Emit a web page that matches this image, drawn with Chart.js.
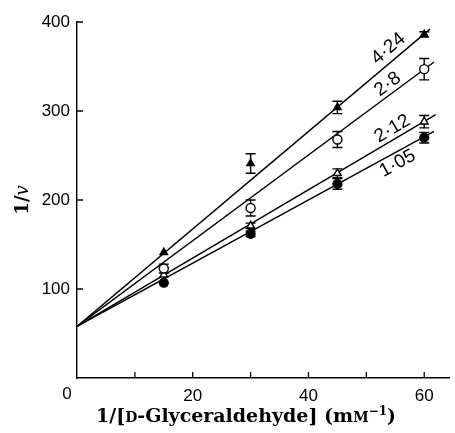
<!DOCTYPE html>
<html lang="en">
<head>
    <meta charset="UTF-8">
    <title>1/v vs 1/[D-Glyceraldehyde]</title>
    <script src="https://cdn.jsdelivr.net/npm/chart.js"></script>
    <style>
        body { margin: 0; background: #ffffff; }
        .chart-box { width: 455px; height: 433px; }
    </style>
</head>
<body>

<div class="chart-box">
    <canvas id="kinChart" width="455" height="433"></canvas>
</div>

<script>
    // Data
    const xValues = [15, 30, 45, 60];

    const s424 = [141, 241, 304, 386];
    const e424 = [0, 11, 7, 3];
    const s28 = [123, 191, 268, 347];
    const e28 = [5, 9, 9, 12];
    const s212 = [116, 171, 230, 288];
    const e212 = [0, 3, 5, 7];
    const s105 = [107, 162, 218, 270];
    const e105 = [0, 3, 6, 6];

    // fitted lines: common intercept, end points
    const intercept = 58;
    const lineEndX = [61, 61.7, 62, 61.7];
    const lineEndY = [392, 355, 296, 277];
    const lineLabels = ['4·24', '2·8', '2·12', '1·05'];
    const labelX = [53.8, 53.7, 54.5, 55.4];
    const labelY = [370, 330, 280, 241];

    const yTicks = [100, 200, 300, 400];
    const xTickMarks = [10, 20, 30, 40, 50, 60];

    const pts = (ys) => xValues.map((x, i) => ({ x: x, y: ys[i] }));
    const fitLine = (i) => [{ x: 0, y: intercept }, { x: lineEndX[i], y: lineEndY[i] }];

    const errSets = [
        { values: s424, errs: e424 },
        { values: s28, errs: e28 },
        { values: s212, errs: e212 },
        { values: s105, errs: e105 }
    ];

    function lineDs(i) {
        return {
            data: fitLine(i), showLine: true, pointRadius: 0,
            borderColor: '#000', borderWidth: 1.4, order: 1
        };
    }

    // Error bars, inside ticks, line labels and axis titles
    const extras = {
        id: 'extras',
        beforeDatasetsDraw(chart) {
            const ctx = chart.ctx;
            const xs = chart.scales.x, ys = chart.scales.y;
            ctx.save();
            ctx.strokeStyle = '#000';
            ctx.lineWidth = 1.4;
            errSets.forEach(set => {
                xValues.forEach((xv, i) => {
                    const e = set.errs[i];
                    if (!e) return;
                    const px = xs.getPixelForValue(xv);
                    const top = ys.getPixelForValue(set.values[i] + e);
                    const bot = ys.getPixelForValue(set.values[i] - e);
                    ctx.beginPath();
                    ctx.moveTo(px, top); ctx.lineTo(px, bot);
                    ctx.moveTo(px - 5, top); ctx.lineTo(px + 5, top);
                    ctx.moveTo(px - 5, bot); ctx.lineTo(px + 5, bot);
                    ctx.stroke();
                });
            });
            ctx.restore();
        },
        afterDraw(chart) {
            const ctx = chart.ctx;
            const xs = chart.scales.x, ys = chart.scales.y;
            const area = chart.chartArea;
            ctx.save();
            ctx.strokeStyle = '#000';
            ctx.lineWidth = 1.3;
            ctx.beginPath();
            yTicks.forEach(v => {
                const py = ys.getPixelForValue(v);
                ctx.moveTo(area.left, py); ctx.lineTo(area.left + 6, py);
            });
            xTickMarks.forEach(v => {
                const px = xs.getPixelForValue(v);
                ctx.moveTo(px, area.bottom); ctx.lineTo(px, area.bottom - 6);
            });
            ctx.stroke();

            // origin label
            ctx.fillStyle = '#000';
            ctx.font = '17px "Liberation Sans", sans-serif';
            ctx.textAlign = 'center';
            ctx.textBaseline = 'top';
            ctx.fillText('0', area.left - 10, area.bottom + 8);

            // labels along the fitted lines
            ctx.font = '19px "Liberation Sans", sans-serif';
            ctx.textBaseline = 'middle';
            lineLabels.forEach((t, i) => {
                const x0 = xs.getPixelForValue(0), y0 = ys.getPixelForValue(intercept);
                const x1 = xs.getPixelForValue(lineEndX[i]), y1 = ys.getPixelForValue(lineEndY[i]);
                const ang = Math.atan2(y1 - y0, x1 - x0);
                ctx.save();
                ctx.translate(xs.getPixelForValue(labelX[i]), ys.getPixelForValue(labelY[i]));
                ctx.rotate(ang);
                ctx.fillText(t, 0, 0);
                ctx.restore();
            });

            // x title with small caps
            const big = 'bold 19px "DejaVu Serif", serif';
            const small = 'bold 14px "DejaVu Serif", serif';
            const sup = 'bold 12px "DejaVu Serif", serif';
            const parts = [
                ['1/[', big, 0], ['D', small, 0], ['-Glyceraldehyde] (m', big, 0],
                ['M', small, 0], ['−1', sup, -7], [')', big, 0]
            ];
            let w = 0;
            parts.forEach(p => { ctx.font = p[1]; w += ctx.measureText(p[0]).width; });
            let cx = 246 - w / 2;
            ctx.textAlign = 'left';
            ctx.textBaseline = 'alphabetic';
            parts.forEach(p => {
                ctx.font = p[1];
                ctx.fillText(p[0], cx, 422 + p[2]);
                cx += ctx.measureText(p[0]).width;
            });

            // y title 1/v
            ctx.save();
            ctx.translate(28, 200);
            ctx.rotate(-Math.PI / 2);
            ctx.font = 'bold 18px "DejaVu Serif", serif';
            const a = ctx.measureText('1/').width;
            ctx.font = 'italic 18px "DejaVu Serif", serif';
            const b = ctx.measureText('v').width;
            let sx = -(a + b) / 2;
            ctx.font = 'bold 18px "DejaVu Serif", serif';
            ctx.fillText('1/', sx, 0);
            ctx.font = 'italic 18px "DejaVu Serif", serif';
            ctx.fillText('v', sx + a, 0);
            ctx.restore();
            ctx.restore();
        }
    };

    const chart = new Chart(document.getElementById('kinChart'), {
        type: 'scatter',
        data: {
            datasets: [
                lineDs(0), lineDs(1), lineDs(2), lineDs(3),
                { data: pts(s424), pointStyle: 'triangle', pointRadius: 4.5,
                  backgroundColor: '#000', borderColor: '#000', borderWidth: 1.2, order: 0 },
                { data: pts(s28), pointStyle: 'circle', pointRadius: 4.5,
                  backgroundColor: '#fff', borderColor: '#000', borderWidth: 1.4, order: 0 },
                { data: pts(s212), pointStyle: 'triangle', pointRadius: 4.5,
                  backgroundColor: '#fff', borderColor: '#000', borderWidth: 1.4, order: 0 },
                { data: pts(s105), pointStyle: 'circle', pointRadius: 4.5,
                  backgroundColor: '#000', borderColor: '#000', borderWidth: 1.2, order: 0 }
            ]
        },
        options: {
            responsive: false,
            animation: false,
            layout: { padding: { top: 22, right: 2, left: 0, bottom: 0 } },
            plugins: { legend: { display: false }, tooltip: { enabled: false } },
            scales: {
                x: {
                    type: 'linear', min: 0, max: 64.3,
                    afterFit: (s) => { s.height = 55; },
                    grid: { drawOnChartArea: false, drawTicks: false },
                    border: { display: true, color: '#000', width: 1.4 },
                    ticks: {
                        stepSize: 10, includeBounds: false, padding: 8, maxRotation: 0,
                        color: '#000', font: { family: '"Liberation Sans", sans-serif', size: 17 },
                        callback: (v) => (v > 0 && v % 20 === 0) ? v : ''
                    }
                },
                y: {
                    min: 0, max: 400,
                    afterFit: (s) => { s.width = 77; },
                    grid: { drawOnChartArea: false, drawTicks: false },
                    border: { display: true, color: '#000', width: 1.4 },
                    ticks: {
                        stepSize: 100, padding: 7,
                        color: '#000', font: { family: '"Liberation Sans", sans-serif', size: 17 },
                        callback: (v) => v === 0 ? '' : v
                    }
                }
            }
        },
        plugins: [extras]
    });
</script>

</body>
</html>
